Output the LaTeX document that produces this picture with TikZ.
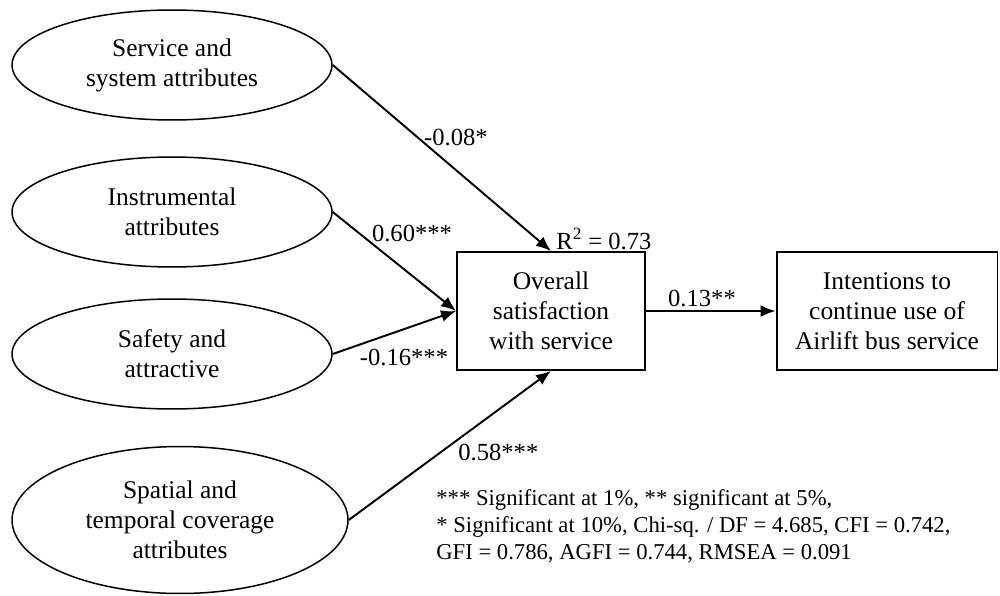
\documentclass[tikz,border=0pt]{standalone}
\usepackage{fontspec}
\setmainfont{Liberation Serif}
\usetikzlibrary{shapes.geometric,arrows.meta}

\begin{document}
\begin{tikzpicture}[x=0.02cm,y=-0.02cm,
        factor/.style={draw, ellipse, line width=0.85pt, inner sep=0pt,
            minimum width=6.4cm, minimum height=2.2cm, align=center,
            font=\fontsize{14.5}{17}\selectfont},
        outcome/.style={draw, rectangle, line width=1.1pt, inner sep=0pt,
            minimum height=2.36cm, align=center,
            font=\fontsize{14.5}{17}\selectfont},
        effect/.style={line width=1.1pt, -{Latex[length=3mm,width=2.4mm]}},
        coef/.style={inner sep=0pt, font=\fontsize{14}{16}\selectfont}]
        \useasboundingbox (0,0) rectangle (1000,595);
        \node [factor] (serv) at (172,65)  {Service and\\system attributes};
        \node [factor] (inst) at (172,212) {Instrumental\\attributes};
        \node [factor] (safe) at (172,354) {Safety and\\attractive};
        \node [factor, minimum width=6.72cm, minimum height=2.94cm] (spat) at (180,520)
            {Spatial and\\temporal coverage\\attributes};
        \node [outcome, minimum width=3.76cm] (sat) at (551,311)
            {Overall\\satisfaction\\with service};
        \node [outcome, minimum width=4.42cm] (int) at (887,311)
            {Intentions to\\continue use of\\Airlift bus service};
        \draw [effect] (serv.east) -- (sat.north);
        \draw [effect] (inst.east) -- (sat.west);
        \draw [effect] (safe.east) -- (sat.west);
        \draw [effect] (spat.east) -- (sat.south);
        \draw [effect] (sat.east) -- (int.west);
        \node [coef] (c1) at (456,137) {-0.08*};
        \node [coef] (c2) at (412,233) {0.60***};
        \node [coef] (c3) at (404,357) {-0.16***};
        \node [coef, anchor=west] (c4) at (458,452) {0.58***};
        \node [coef] (c5) at (702,298) {0.13**};
        \node [coef, anchor=west] (r2) at (556,239) {R\textsuperscript{2} = 0.73};
        % fit statistics
        \node [anchor=north west, align=left, inner sep=0pt,
            font=\fontsize{12.9}{15.3}\selectfont] (fit) at (436,489)
            {*** Significant at 1\%, ** significant at 5\%,\\
             * Significant at 10\%, Chi-sq. / DF = 4.685, CFI = 0.742,\\
             GFI = 0.786, AGFI = 0.744, RMSEA = 0.091};
    \end{tikzpicture}
\end{document}
